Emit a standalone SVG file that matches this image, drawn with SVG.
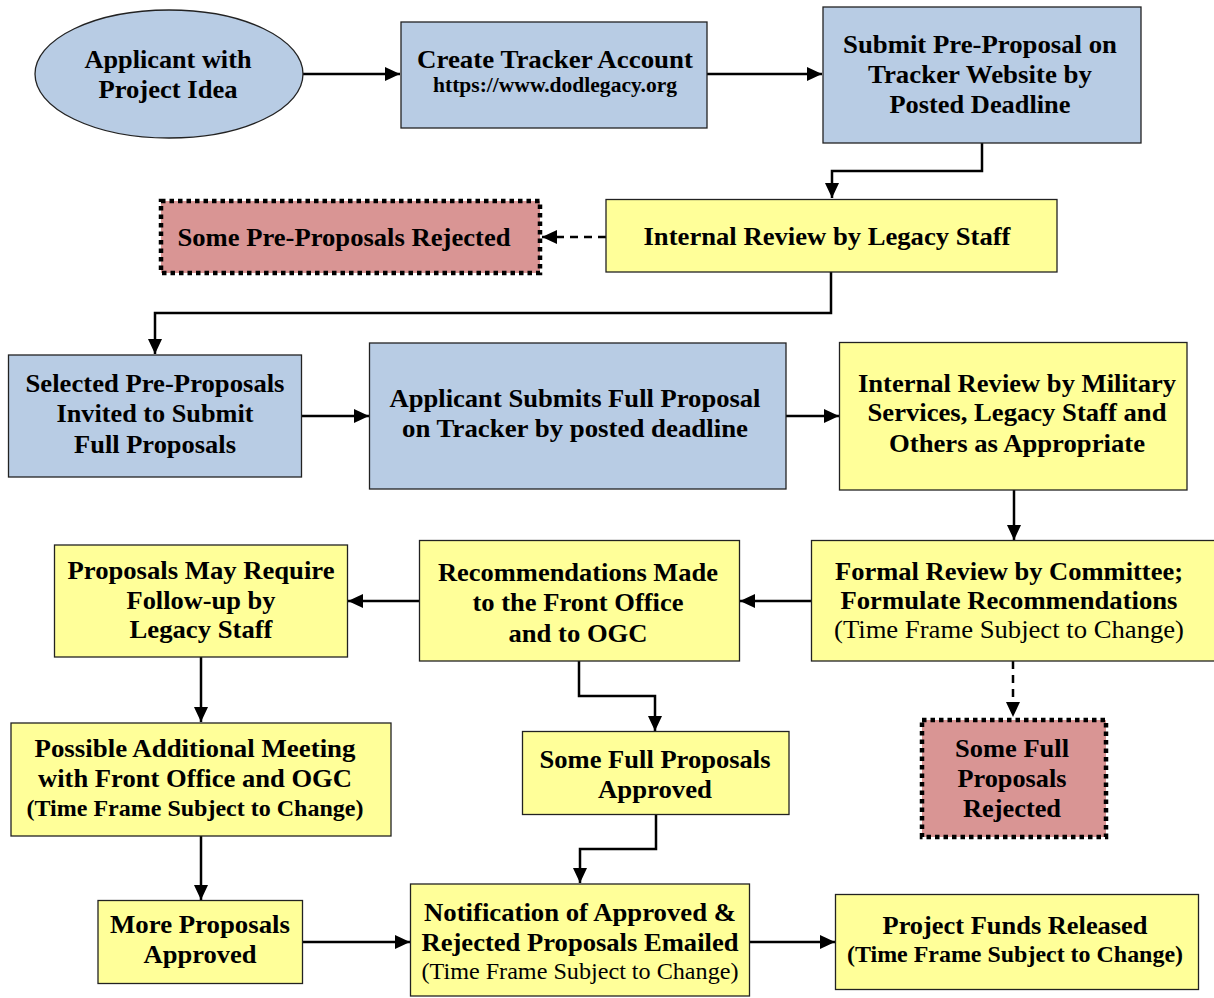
<svg xmlns="http://www.w3.org/2000/svg" width="1214" height="998" viewBox="0 0 1214 998">
<style>
.t{font-family:"Liberation Serif","Times New Roman",serif;font-size:26px;font-weight:bold;fill:#000;text-anchor:middle}
.r{font-weight:normal}
.s{font-size:23px}
.u{font-size:20px}
.blue{fill:#B8CCE4;stroke:#222;stroke-width:1.3}
.yel{fill:#FFFF99;stroke:#222;stroke-width:1.3}
.rej{fill:#D99594;stroke:#000;stroke-width:4.5;stroke-dasharray:4.5 4}
.c{fill:none;stroke:#000;stroke-width:2.5;marker-end:url(#ah)}
.d{stroke-dasharray:8 6}
</style>
<defs>
<marker id="ah" markerUnits="userSpaceOnUse" markerWidth="16" markerHeight="14" refX="15" refY="7" orient="auto">
<path d="M0,0 L15,7 L0,14 z" fill="#000"/>
</marker>
</defs>
<rect width="1214" height="998" fill="#fff"/>
<g id="connectors">
<path class="c" d="M302,74 H400"/>
<path class="c" d="M707,74 H822"/>
<path class="c" d="M982,143 V171 H832 V198"/>
<path class="c d" d="M606,237 H542"/>
<path class="c" d="M831,272 V313 H155 V354"/>
<path class="c" d="M301,416 H369"/>
<path class="c" d="M786,416 H839"/>
<path class="c" d="M1014,490 V540"/>
<path class="c" d="M812,601 H740"/>
<path class="c" d="M419,601 H348"/>
<path class="c" d="M579,661 V696 H655 V731"/>
<path class="c d" d="M1013,661 V717"/>
<path class="c" d="M201,657 V722"/>
<path class="c" d="M201,836 V900"/>
<path class="c" d="M656,814 V849 H580 V883"/>
<path class="c" d="M302,942 H410"/>
<path class="c" d="M749,942 H835"/>
</g>
<g id="n1"><ellipse class="blue" cx="169" cy="74" rx="134" ry="64"/>
<text class="t" x="168" y="68" textLength="167" lengthAdjust="spacingAndGlyphs">Applicant with</text>
<text class="t" x="168" y="98" textLength="139" lengthAdjust="spacingAndGlyphs">Project Idea</text></g>
<g id="n2"><rect class="blue" x="401" y="22" width="306" height="106"/>
<text class="t" x="555" y="68" textLength="276" lengthAdjust="spacingAndGlyphs">Create Tracker Account</text>
<text class="t u" x="555" y="92" textLength="244" lengthAdjust="spacingAndGlyphs">https://www.dodlegacy.org</text></g>
<g id="n3"><rect class="blue" x="823" y="7" width="318" height="136"/>
<text class="t" x="980" y="53" textLength="274" lengthAdjust="spacingAndGlyphs">Submit Pre-Proposal on</text>
<text class="t" x="980" y="83" textLength="224" lengthAdjust="spacingAndGlyphs">Tracker Website by</text>
<text class="t" x="980" y="113" textLength="181" lengthAdjust="spacingAndGlyphs">Posted Deadline</text></g>
<g id="n4"><rect class="yel" x="606" y="199.5" width="451" height="72.5"/>
<text class="t" x="827" y="245" textLength="367" lengthAdjust="spacingAndGlyphs">Internal Review by Legacy Staff</text></g>
<g id="n5"><rect class="rej" x="161" y="201" width="379" height="72"/>
<text class="t" x="344" y="246" textLength="333" lengthAdjust="spacingAndGlyphs">Some Pre-Proposals Rejected</text></g>
<g id="n6"><rect class="blue" x="8.5" y="355" width="293" height="122"/>
<text class="t" x="155" y="392" textLength="259" lengthAdjust="spacingAndGlyphs">Selected Pre-Proposals</text>
<text class="t" x="155" y="422" textLength="197" lengthAdjust="spacingAndGlyphs">Invited to Submit</text>
<text class="t" x="155" y="453" textLength="162" lengthAdjust="spacingAndGlyphs">Full Proposals</text></g>
<g id="n7"><rect class="blue" x="369.5" y="343" width="416.5" height="146"/>
<text class="t" x="575" y="407" textLength="371" lengthAdjust="spacingAndGlyphs">Applicant Submits Full Proposal</text>
<text class="t" x="575" y="437" textLength="346" lengthAdjust="spacingAndGlyphs">on Tracker by posted deadline</text></g>
<g id="n8"><rect class="yel" x="839.5" y="342.5" width="347.5" height="147.5"/>
<text class="t" x="1017" y="392" textLength="318" lengthAdjust="spacingAndGlyphs">Internal Review by Military</text>
<text class="t" x="1017" y="421" textLength="299" lengthAdjust="spacingAndGlyphs">Services, Legacy Staff and</text>
<text class="t" x="1017" y="452" textLength="256" lengthAdjust="spacingAndGlyphs">Others as Appropriate</text></g>
<g id="n9"><rect class="yel" x="811.5" y="540.5" width="405" height="120.5"/>
<text class="t" x="1009" y="580" textLength="348" lengthAdjust="spacingAndGlyphs">Formal Review by Committee;</text>
<text class="t" x="1009" y="609" textLength="337" lengthAdjust="spacingAndGlyphs">Formulate Recommendations</text>
<text class="t r" x="1009" y="638" textLength="350" lengthAdjust="spacingAndGlyphs">(Time Frame Subject to Change)</text></g>
<g id="n10"><rect class="yel" x="419.5" y="540.5" width="320" height="120.5"/>
<text class="t" x="578" y="581" textLength="280" lengthAdjust="spacingAndGlyphs">Recommendations Made</text>
<text class="t" x="578" y="611" textLength="211" lengthAdjust="spacingAndGlyphs">to the Front Office</text>
<text class="t" x="578" y="642" textLength="139" lengthAdjust="spacingAndGlyphs">and to OGC</text></g>
<g id="n11"><rect class="yel" x="54.5" y="545" width="293" height="112"/>
<text class="t" x="201" y="579" textLength="267" lengthAdjust="spacingAndGlyphs">Proposals May Require</text>
<text class="t" x="201" y="609" textLength="149" lengthAdjust="spacingAndGlyphs">Follow-up by</text>
<text class="t" x="201" y="638" textLength="143" lengthAdjust="spacingAndGlyphs">Legacy Staff</text></g>
<g id="n12"><rect class="yel" x="11" y="723" width="380" height="113"/>
<text class="t" x="195" y="757" textLength="321" lengthAdjust="spacingAndGlyphs">Possible Additional Meeting</text>
<text class="t" x="195" y="787" textLength="314" lengthAdjust="spacingAndGlyphs">with Front Office and OGC</text>
<text class="t s" x="195" y="816" textLength="337" lengthAdjust="spacingAndGlyphs">(Time Frame Subject to Change)</text></g>
<g id="n13"><rect class="yel" x="522.5" y="731.5" width="266.5" height="83"/>
<text class="t" x="655" y="768" textLength="231" lengthAdjust="spacingAndGlyphs">Some Full Proposals</text>
<text class="t" x="655" y="798" textLength="114" lengthAdjust="spacingAndGlyphs">Approved</text></g>
<g id="n14"><rect class="rej" x="922" y="720" width="184" height="117"/>
<text class="t" x="1012" y="757" textLength="114" lengthAdjust="spacingAndGlyphs">Some Full</text>
<text class="t" x="1012" y="787" textLength="109" lengthAdjust="spacingAndGlyphs">Proposals</text>
<text class="t" x="1012" y="817" textLength="98" lengthAdjust="spacingAndGlyphs">Rejected</text></g>
<g id="n15"><rect class="yel" x="98" y="900.5" width="204.5" height="83"/>
<text class="t" x="200" y="933" textLength="180" lengthAdjust="spacingAndGlyphs">More Proposals</text>
<text class="t" x="200" y="963" textLength="113" lengthAdjust="spacingAndGlyphs">Approved</text></g>
<g id="n16"><rect class="yel" x="410.5" y="884" width="339" height="112"/>
<text class="t" x="580" y="921" textLength="312" lengthAdjust="spacingAndGlyphs">Notification of Approved &amp;</text>
<text class="t" x="580" y="951" textLength="317" lengthAdjust="spacingAndGlyphs">Rejected Proposals Emailed</text>
<text class="t r s" x="580" y="979" textLength="317" lengthAdjust="spacingAndGlyphs">(Time Frame Subject to Change)</text></g>
<g id="n17"><rect class="yel" x="835.5" y="894.5" width="363" height="95"/>
<text class="t" x="1015" y="934" textLength="265" lengthAdjust="spacingAndGlyphs">Project Funds Released</text>
<text class="t s" x="1015" y="962" textLength="336" lengthAdjust="spacingAndGlyphs">(Time Frame Subject to Change)</text></g>
</svg>
